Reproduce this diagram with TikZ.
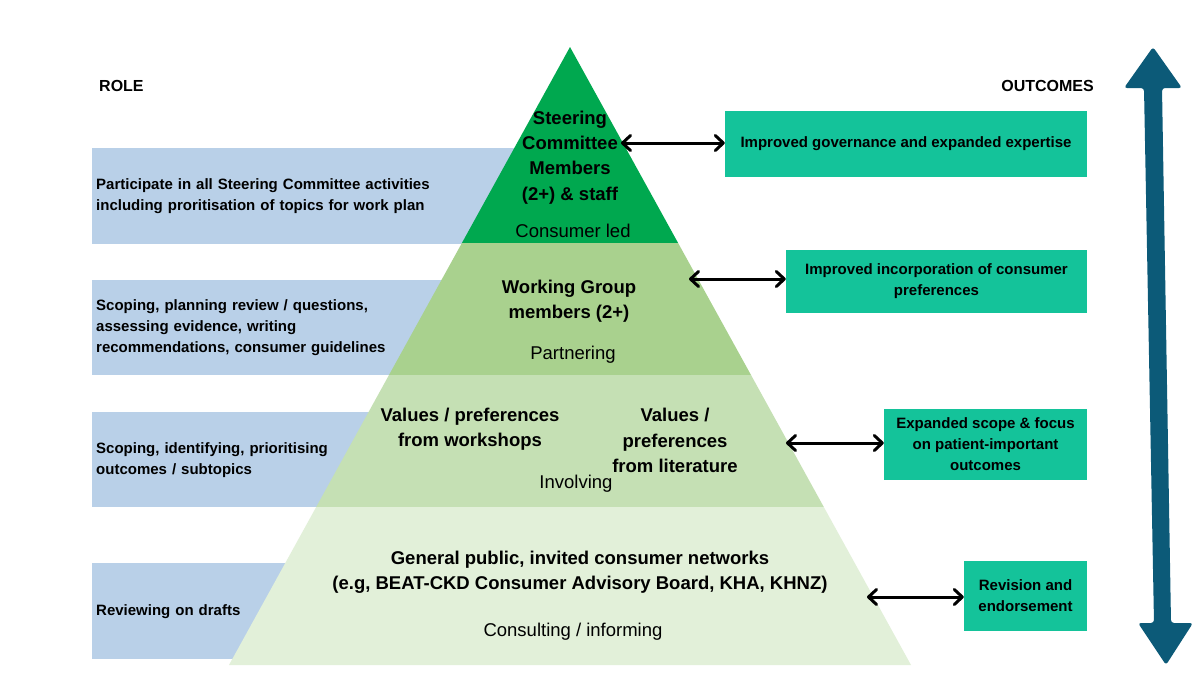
\documentclass[tikz,border=0pt]{standalone}
\usepackage{fontspec}
\setmainfont{Liberation Sans}
\usetikzlibrary{arrows.meta}
\definecolor{levA}{HTML}{00A84F}
\definecolor{levB}{HTML}{A9D18E}
\definecolor{levC}{HTML}{C5E0B4}
\definecolor{levD}{HTML}{E2F0D9}
\definecolor{roleblue}{HTML}{B9D0E8}
\definecolor{outteal}{HTML}{14C39A}
\definecolor{arrowblue}{HTML}{0C5A78}
\begin{document}
\begin{tikzpicture}[x=1pt,y=-1pt,
  rolebox/.style={fill=roleblue, anchor=north west, inner xsep=4pt, inner ysep=0pt,
    align=left, font=\bfseries\fontsize{15}{21}\selectfont, minimum height=96pt},
  outbox/.style={fill=outteal, align=center, inner sep=0pt,
    font=\bfseries\fontsize{15}{21}\selectfont},
  pyrbold/.style={align=center, inner sep=0pt, font=\bfseries\fontsize{18.5}{25.3}\selectfont},
  pyrreg/.style={inner sep=0pt, font=\fontsize{18.5}{22}\selectfont},
  headtxt/.style={inner sep=0pt, font=\bfseries\fontsize{16}{19}\selectfont},
  dbl/.style={{Straight Barb[length=8pt,width=15pt,line join=round,line cap=round]}-{Straight Barb[length=8pt,width=15pt,line join=round,line cap=round]}, line width=3pt, black}
]
\useasboundingbox (0,0) rectangle (1200,675);
\fill[white] (0,0) rectangle (1200,675);

% headings
\node[headtxt, anchor=west] (role) at (99,86) {ROLE};
\node[headtxt, anchor=east] (outc) at (1094,86) {OUTCOMES};

% role boxes (behind pyramid)
\node[rolebox, text width=460pt] (r1) at (92,148)
  {Participate in all Steering Committee activities\\including proritisation of topics for work plan};
\node[rolebox, text width=420pt, minimum height=95pt] (r2) at (92,280)
  {Scoping, planning review / questions,\\assessing evidence, writing\\recommendations, consumer guidelines};
\node[rolebox, text width=350pt, minimum height=95pt] (r3) at (92,412)
  {Scoping, identifying, prioritising\\outcomes / subtopics};
\node[rolebox, text width=280pt] (r4) at (92,563)
  {Reviewing on drafts};

% pyramid levels
\fill[levA] (570,47) -- (678.1,243) -- (461.9,243) -- cycle;
\fill[levB] (461.9,243) -- (678.1,243) -- (751,375) -- (389,375) -- cycle;
\fill[levC] (389,375) -- (751,375) -- (823.8,507) -- (316.2,507) -- cycle;
\fill[levD] (316.2,507) -- (823.8,507) -- (911,665) -- (229,665) -- cycle;

% pyramid texts
\node[pyrbold] (p1) at (570,157.5) {Steering\\Committee\\Members\\(2+) \& staff};
\node[pyrreg] (p1s) at (573,231) {Consumer led};
\node[pyrbold] (p2) at (569,301.5) {Working Group\\members (2+)};
\node[pyrreg] (p2s) at (573,355) {Partnering};
\node[pyrbold] (p3a) at (470,429) {Values / preferences\\from workshops};
\node[pyrbold] (p3b) at (675,440.5) {Values /\\preferences\\from literature};
\node[pyrreg] (p3s) at (576,484) {Involving};
\node[pyrbold] (p4) at (580,572.5) {General public, invited consumer networks\\(e.g, BEAT-CKD Consumer Advisory Board, KHA, KHNZ)};
\node[pyrreg] (p4s) at (573,632) {Consulting / informing};

% outcome boxes
\node[outbox, minimum width=362pt, minimum height=66pt] (o1) at (906,144)
  {\raisebox{-1.5pt}{Improved governance and expanded expertise}};
\node[outbox, minimum width=301pt, minimum height=63pt] (o2) at (936.5,281.5)
  {Improved incorporation of consumer\\preferences};
\node[outbox, minimum width=203pt, minimum height=71pt] (o3) at (985.5,444.5)
  {Expanded scope \& focus\\on patient-important\\outcomes};
\node[outbox, minimum width=123pt, minimum height=70pt] (o4) at (1025.5,596)
  {Revision and\\endorsement};

% connectors
\coordinate (c1) at (621,143);
\coordinate (c2) at (689,279);
\coordinate (c3) at (786,443);
\coordinate (c4) at (867,597);
\draw[dbl] (c1) -- (c1 -| o1.west);
\draw[dbl] (c2) -- (c2 -| o2.west);
\draw[dbl] (c3) -- (c3 -| o3.west);
\draw[dbl] (c4) -- (c4 -| o4.west);

% big double arrow
\fill[arrowblue, rounded corners=3pt] (1153,47) -- (1182,88) -- (1162,88) -- (1171,623)
  -- (1193,623) -- (1166,665) -- (1138,623) -- (1154,623) -- (1144,88) -- (1124,88) -- cycle;
\end{tikzpicture}
\end{document}
